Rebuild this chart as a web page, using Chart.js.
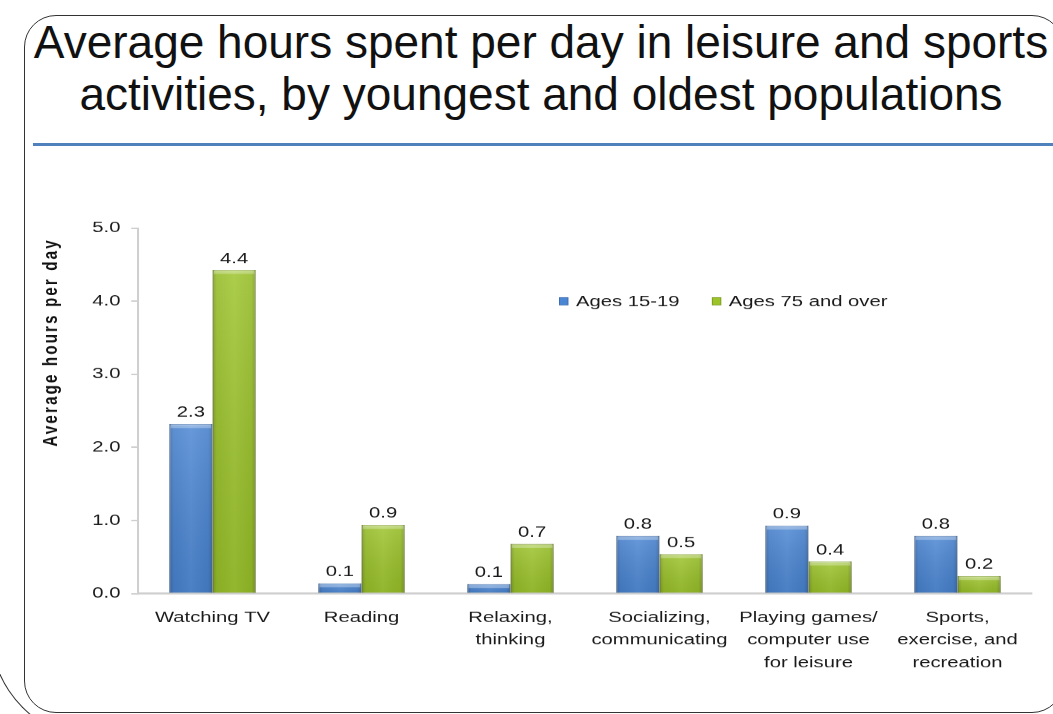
<!DOCTYPE html>
<html>
<head>
<meta charset="utf-8">
<script src="https://cdn.jsdelivr.net/npm/chart.js@4.4.0/dist/chart.umd.min.js"></script>
<style>
  html, body { margin: 0; padding: 0; background: #fff; overflow: hidden; }
  body { width: 1053px; height: 714px; position: relative; font-family: "Liberation Sans", Arial, sans-serif; }
  .frame { position: absolute; left: 24px; top: 15px; width: 1040px; height: 698px; box-sizing: border-box;
    border: 1px solid #333; border-radius: 32px; }
  .frame2 { position: absolute; left: -10px; top: 400px; width: 400px; height: 340px; box-sizing: border-box;
    border-style: solid; border-color: #333; border-width: 0 0 1px 1px; border-radius: 0 0 0 110px; }
  .title { position: absolute; left: 0; top: 16px; width: 1082px; text-align: center; font-size: 46px;
    line-height: 52px; color: #111; }
  .rule { position: absolute; left: 33px; top: 143px; width: 1020px; height: 3px; background: #4f81bd; }
  #chart { position: absolute; left: 0; top: 0; }
</style>
</head>
<body>
<div class="frame2"></div>
<div class="frame"></div>
<div class="title">Average hours spent per day in leisure and sports<br>activities, by youngest and oldest populations</div>
<div class="rule"></div>
<canvas id="chart" width="780" height="714" style="width:1053px;height:714px"></canvas>
<script>
const categories = [
  ["Watching TV"],
  ["Reading"],
  ["Relaxing,", "thinking"],
  ["Socializing,", "communicating"],
  ["Playing games/", "computer use", "for leisure"],
  ["Sports,", "exercise, and", "recreation"]
];
const youngValues = [2.32, 0.14, 0.13, 0.79, 0.93, 0.79];
const oldValues = [4.43, 0.94, 0.68, 0.54, 0.44, 0.24];
const yTicks = [0, 1, 2, 3, 4, 5];
const yTitle = "Average hours per day";

// the chart picture in the slide is stretched sideways, so the canvas is too
const STRETCH = 1.35;
const FONT = "'Liberation Sans', Arial, sans-serif";

// values above bars
const valueLabels = {
  id: "valueLabels",
  afterDatasetsDraw(chart) {
    const ctx = chart.ctx;
    ctx.save();
    ctx.font = "15px " + FONT;
    ctx.fillStyle = "#1a1a1a";
    ctx.textAlign = "center";
    ctx.textBaseline = "alphabetic";
    chart.data.datasets.forEach((ds, di) => {
      chart.getDatasetMeta(di).data.forEach((bar, i) => {
        ctx.fillText(ds.data[i].toFixed(1), bar.x, bar.y - 7);
      });
    });
    ctx.restore();
  }
};

// a bit of bevel shading on the bars
const barShade = {
  id: "barShade",
  afterDatasetsDraw(chart) {
    const ctx = chart.ctx;
    ctx.save();
    chart.data.datasets.forEach((ds, di) => {
      chart.getDatasetMeta(di).data.forEach((bar) => {
        const l = bar.x - bar.width / 2, r = bar.x + bar.width / 2;
        let g = ctx.createLinearGradient(l, 0, r, 0);
        g.addColorStop(0, "rgba(0,0,0,0.2)");
        g.addColorStop(0.1, "rgba(0,0,0,0.04)");
        g.addColorStop(0.5, "rgba(255,255,255,0.05)");
        g.addColorStop(0.9, "rgba(0,0,0,0.04)");
        g.addColorStop(1, "rgba(0,0,0,0.2)");
        ctx.fillStyle = g;
        ctx.fillRect(l, bar.y, bar.width, bar.base - bar.y);
        let v = ctx.createLinearGradient(0, bar.y, 0, bar.base);
        v.addColorStop(0, "rgba(255,255,255,0.12)");
        v.addColorStop(1, "rgba(0,0,0,0.08)");
        ctx.fillStyle = v;
        ctx.fillRect(l, bar.y, bar.width, bar.base - bar.y);
        ctx.fillStyle = "rgba(255,255,255,0.3)";
        ctx.fillRect(l + 1, bar.y, bar.width - 2, Math.min(4, bar.base - bar.y));
      });
    });
    ctx.restore();
  }
};

// legend inside the plot, and the rotated axis title
const extras = {
  id: "extras",
  afterDraw(chart) {
    const ctx = chart.ctx;
    const y = chart.scales.y.getPixelForValue(4.0);
    let x = 559 / STRETCH;
    ctx.save();
    ctx.font = "15px " + FONT;
    ctx.textBaseline = "middle";
    chart.data.datasets.forEach((ds) => {
      ctx.fillStyle = ds.borderColor;
      ctx.fillRect(x, y - 4, 7, 8);
      ctx.fillStyle = ds.backgroundColor;
      ctx.fillRect(x + 0.7, y - 3.3, 5.6, 6.6);
      ctx.fillStyle = "#1a1a1a";
      ctx.fillText(ds.label, x + 12.5, y + 1);
      x += 12.5 + ctx.measureText(ds.label).width + 24;
    });
    ctx.restore();

    ctx.save();
    ctx.translate(51 / STRETCH, 342);
    ctx.rotate(-Math.PI / 2);
    ctx.font = "bold 15px " + FONT;
    try { ctx.letterSpacing = "2.2px"; } catch (e) {}
    ctx.fillStyle = "#111";
    ctx.textAlign = "center";
    ctx.textBaseline = "middle";
    ctx.fillText(yTitle, 0, 0);
    ctx.restore();
  }
};

new Chart(document.getElementById("chart"), {
  type: "bar",
  data: {
    labels: categories,
    datasets: [
      {
        label: "Ages 15-19",
        data: youngValues,
        backgroundColor: "#4a86d4",
        borderColor: "#3b6cae",
        borderWidth: 1,
        categoryPercentage: 0.58,
        barPercentage: 1.0,
      },
      {
        label: "Ages 75 and over",
        data: oldValues,
        backgroundColor: "#9cc42a",
        borderColor: "#7a9a1e",
        borderWidth: 1,
        categoryPercentage: 0.58,
        barPercentage: 1.0,
      },
    ],
  },
  options: {
    responsive: false,
    devicePixelRatio: STRETCH,
    animation: false,
    layout: { padding: { left: 0, top: 228, right: 780 - 1032 / STRETCH, bottom: 0 } },
    plugins: {
      legend: { display: false },
      tooltip: { enabled: false },
    },
    scales: {
      x: {
        grid: { display: false },
        border: { color: "#cfcfcf", width: 2 },
        ticks: {
          color: "#1a1a1a",
          font: { family: FONT, size: 15, lineHeight: 1.5 },
          padding: 5,
          maxRotation: 0,
        },
        afterFit(scale) { scale.height = 121; },
      },
      y: {
        min: 0,
        max: 5,
        afterBuildTicks(scale) { scale.ticks = yTicks.map((v) => ({ value: v })); },
        grid: { drawOnChartArea: false, drawTicks: true, tickLength: 5, color: "#cfcfcf", lineWidth: 1.5 },
        border: { color: "#cfcfcf", width: 1.5 },
        ticks: {
          color: "#1a1a1a",
          font: { family: FONT, size: 15 },
          padding: 8,
          callback: (v) => v.toFixed(1),
        },
        afterFit(scale) { scale.width = 138 / STRETCH; },
      },
    },
  },
  plugins: [barShade, valueLabels, extras],
});
</script>
</body>
</html>
